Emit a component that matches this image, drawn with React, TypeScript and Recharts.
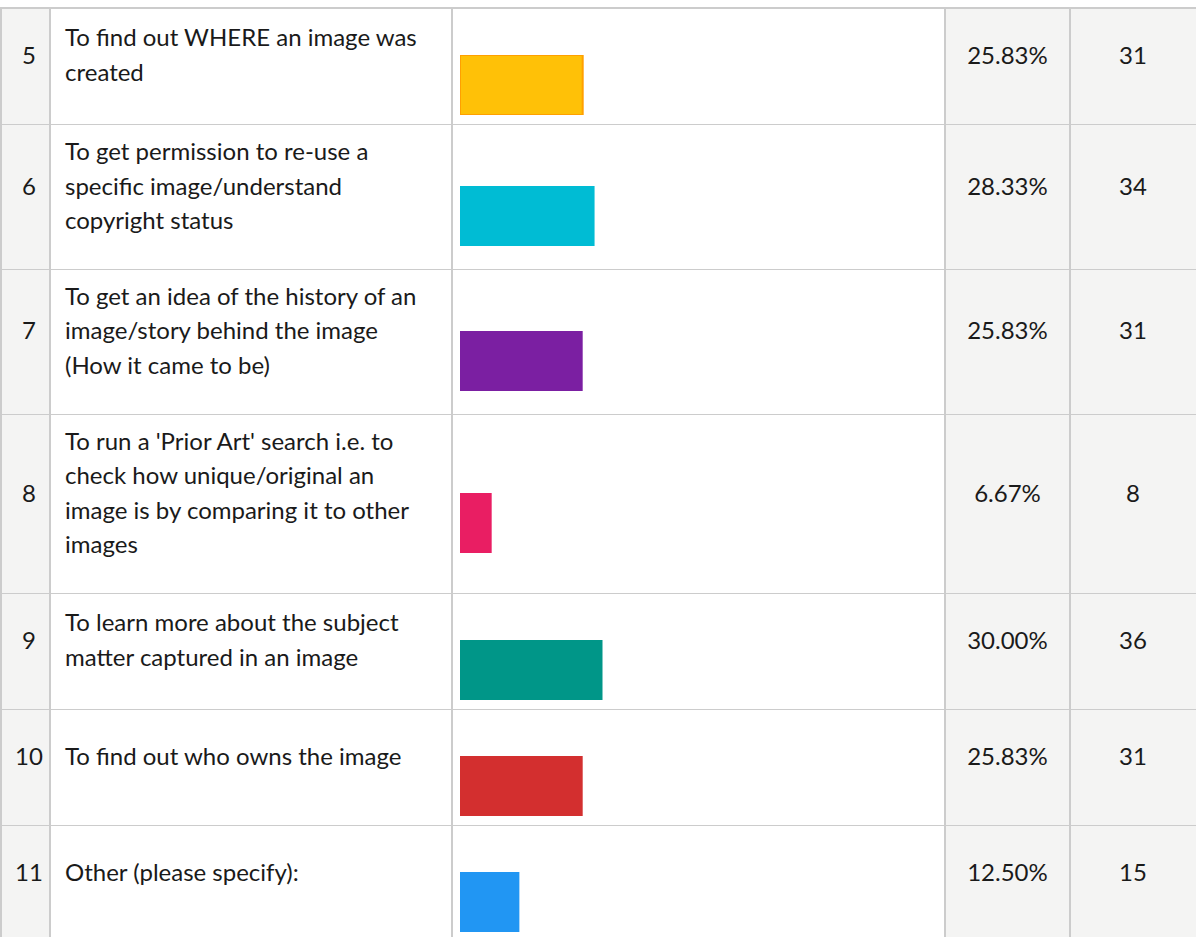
import React from "react";
import { BarChart, Bar, XAxis, YAxis } from "recharts";

// ---- data ----
const questionNumbers = [5, 6, 7, 8, 9, 10, 11];
const questionLabels = [
  ["To find out WHERE an image was", "created"],
  ["To get permission to re-use a", "specific image/understand", "copyright status"],
  ["To get an idea of the history of an", "image/story behind the image", "(How it came to be)"],
  [
    "To run a 'Prior Art' search i.e. to",
    "check how unique/original an",
    "image is by comparing it to other",
    "images",
  ],
  ["To learn more about the subject", "matter captured in an image"],
  ["To find out who owns the image"],
  ["Other (please specify):"],
];
const responsePercents = [25.83, 28.33, 25.83, 6.67, 30.0, 25.83, 12.5];
const responseCounts = [31, 34, 31, 8, 36, 31, 15];

// ---- styles ----
const BAR_COLORS = ["#FFC107", "#00BCD4", "#7B1FA2", "#E91E63", "#009688", "#D32F2F", "#2196F3"];
const BAR_STROKES = ["#FFA000", "none", "none", "none", "none", "none", "none"];
const FONT = "Lato, 'Open Sans', sans-serif";
const FONT_SIZE = 24;
const TEXT_COLOR = "#1a1a1a";
const BORDER = "#cccccc";
const GRAY = "#f4f4f3";

const W = 1196;
const H = 937;
const LINE = 34.6;
const PAD_TOP = 10;
const PAD_BOTTOM = 31;
const MIN_CENTER = 47;
const BAR_H = 60;
const BAR_PAD_BOTTOM = 9;
const BAR_LEFT = 460;
const BAR_AREA = 475;

const COL_NUM_R = 50;
const COL_LABEL_R = 452;
const COL_PCT_L = 945;
const COL_CNT_L = 1070;

type RowLayout = { top: number; center: number; bottom: number };

function computeLayout(): RowLayout[] {
  const rows: RowLayout[] = [];
  let top = 8;
  questionLabels.forEach((lines) => {
    const blockH = lines.length * LINE;
    const center = Math.max(top + PAD_TOP + blockH / 2, top + MIN_CENTER);
    const bottom = Math.max(center + BAR_H + BAR_PAD_BOTTOM, top + PAD_TOP + blockH + PAD_BOTTOM);
    rows.push({ top, center, bottom });
    top = bottom;
  });
  return rows;
}

function RowBar({ index }: { index: number }) {
  const data = [{ name: String(questionNumbers[index]), value: responsePercents[index] }];
  const stroke = BAR_STROKES[index];
  return (
    <BarChart
      width={BAR_AREA}
      height={BAR_H}
      data={data}
      layout="vertical"
      margin={{ top: 0, right: 0, bottom: 0, left: 0 }}
      barCategoryGap={0}
    >
      <XAxis type="number" domain={[0, 100]} hide />
      <YAxis type="category" dataKey="name" hide />
      <Bar
        dataKey="value"
        fill={BAR_COLORS[index]}
        stroke={stroke === "none" ? undefined : stroke}
        strokeWidth={stroke === "none" ? 0 : 2}
        isAnimationActive={false}
      />
    </BarChart>
  );
}

export default function App() {
  const rows = computeLayout();
  const textBase: React.CSSProperties = {
    position: "absolute",
    fontFamily: FONT,
    fontSize: FONT_SIZE,
    color: TEXT_COLOR,
    lineHeight: `${LINE}px`,
    whiteSpace: "nowrap",
  };
  return (
    <div
      style={{
        position: "absolute",
        left: 0,
        top: 0,
        width: W,
        height: H,
        overflow: "hidden",
        background: "#ffffff",
      }}
    >
      {/* gray columns */}
      <div style={{ position: "absolute", left: 0, top: 8, width: COL_NUM_R, height: H, background: GRAY }} />
      <div style={{ position: "absolute", left: COL_PCT_L, top: 8, width: W - COL_PCT_L, height: H, background: GRAY }} />

      {/* horizontal lines */}
      <div style={{ position: "absolute", left: 0, top: 7, width: W, height: 2, background: BORDER }} />
      {rows.slice(1).map((r, i) => (
        <div
          key={`h${i}`}
          style={{ position: "absolute", left: 0, top: Math.round(r.top), width: W, height: 1, background: BORDER }}
        />
      ))}

      {/* vertical lines */}
      {[0, COL_NUM_R - 1, COL_LABEL_R - 1, COL_PCT_L - 1, COL_CNT_L - 1].map((x, i) => (
        <div key={`v${i}`} style={{ position: "absolute", left: x, top: 7, width: 2, height: H, background: BORDER }} />
      ))}

      {rows.map((r, i) => {
        const lines = questionLabels[i];
        const blockTop = r.center - (lines.length * LINE) / 2;
        return (
          <React.Fragment key={i}>
            <div style={{ ...textBase, left: 2, width: 54, textAlign: "center", top: r.center - LINE / 2 }}>
              {questionNumbers[i]}
            </div>
            <div style={{ ...textBase, left: 65, top: blockTop }}>
              {lines.map((l, j) => (
                <div key={j}>{l}</div>
              ))}
            </div>
            <div style={{ position: "absolute", left: BAR_LEFT, top: r.center, width: BAR_AREA, height: BAR_H }}>
              <RowBar index={i} />
            </div>
            <div
              style={{
                ...textBase,
                left: COL_PCT_L,
                width: COL_CNT_L - COL_PCT_L,
                textAlign: "center",
                top: r.center - LINE / 2,
              }}
            >
              {responsePercents[i].toFixed(2)}%
            </div>
            <div
              style={{
                ...textBase,
                left: COL_CNT_L,
                width: 126,
                textAlign: "center",
                top: r.center - LINE / 2,
              }}
            >
              {responseCounts[i]}
            </div>
          </React.Fragment>
        );
      })}
    </div>
  );
}
